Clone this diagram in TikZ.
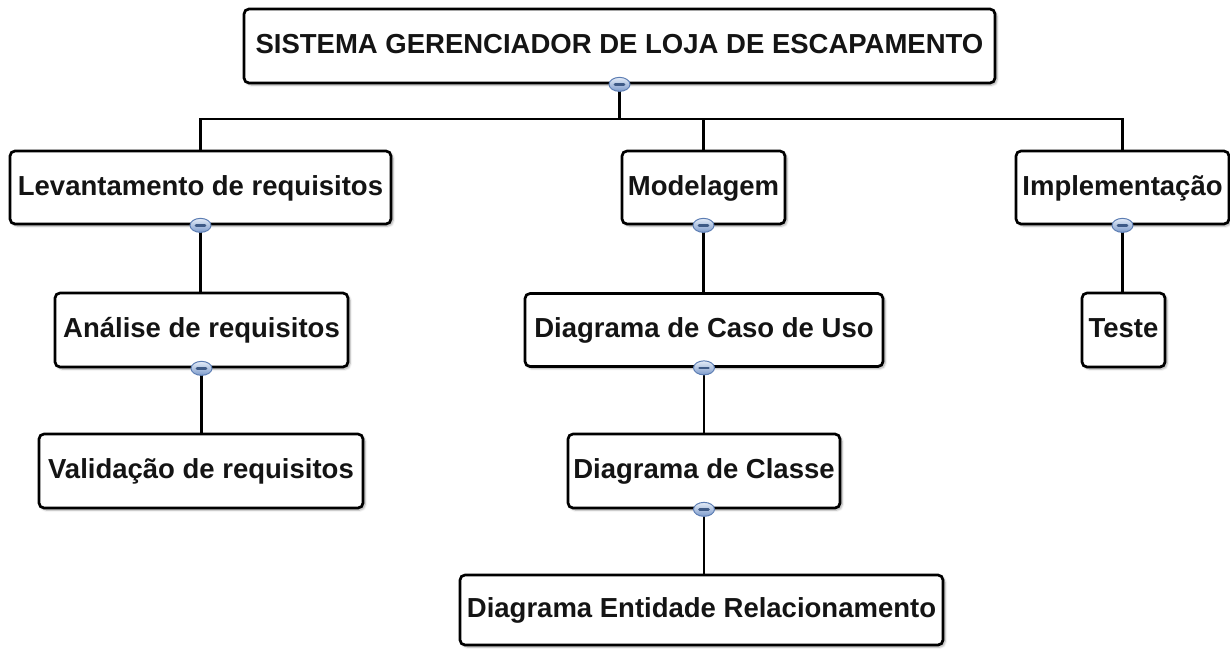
\documentclass[tikz,border=0pt]{standalone}
\usepackage{fontspec}
\setmainfont{Liberation Sans}
\usetikzlibrary{shadows.blur,shapes.geometric}
\definecolor{icontop}{HTML}{E4ECF7}
\definecolor{iconbot}{HTML}{7C9ACB}
\definecolor{iconedge}{HTML}{5C7DB3}
\definecolor{icondash}{HTML}{3E5A86}
\tikzset{
  boxst/.style={draw=black, line width=2.7pt, rounded corners=5pt, fill=white,
    inner sep=0pt, blur shadow={shadow xshift=2pt, shadow yshift=-2pt, shadow blur steps=6, shadow opacity=35}},
  txt/.style={font=\bfseries\fontsize{27.5}{30}\selectfont, text=black!92, inner sep=0pt, anchor=base},
  conn/.style={draw=black, line width=2.8pt},
  iconst/.style={ellipse, minimum width=21pt, minimum height=14pt, inner sep=0pt,
    top color=icontop, bottom color=iconbot, draw=iconedge, line width=1pt},
  icondashst/.style={draw=icondash, line width=2.6pt, line cap=round},
}
\newcommand\mybox[6]{%
  \node[boxst, minimum width=#4pt, minimum height=#5pt] (#1) at (#2,#3) {};
  \node[txt] (#1t) at ([shift={(0,7.5)}]#1.center) {#6};
}
\newcommand\myicon[2]{%
  \node[iconst] (#1) at (#2.south) {};
  \draw[icondashst] ([xshift=-4.5pt]#1.center) -- ([xshift=4.5pt]#1.center);
}
\begin{document}
\begin{tikzpicture}[x=1pt,y=-1pt]
\useasboundingbox (0,0) rectangle (1230,648);
\coordinate (bar) at (619.5,119);
\mybox{root}{619.5}{46}{751}{74}{SISTEMA GERENCIADOR DE LOJA DE ESCAPAMENTO}
\mybox{lev}{200.5}{187.5}{381}{73}{Levantamento de requisitos}
\mybox{mod}{703.5}{187.5}{163}{73}{Modelagem}
\mybox{imp}{1122.5}{187.5}{213}{73}{Implementação}
\mybox{ana}{201.5}{330}{293}{74}{Análise de requisitos}
\mybox{caso}{704}{330}{358}{73}{Diagrama de Caso de Uso}
\mybox{teste}{1123.5}{330}{83}{74}{Teste}
\mybox{val}{201}{471}{324}{74}{Validação de requisitos}
\mybox{classe}{704}{471}{272}{74}{Diagrama de Classe}
\mybox{der}{701.5}{610}{483}{70}{Diagrama Entidade Relacionamento}
% connectors
\draw[conn] (root.south) -- (bar);
\draw[conn] (bar) -| (lev.north);
\draw[conn] (bar) -| (imp.north);
\draw[conn] (mod.north |- bar) -- (mod.north);
\draw[conn] (lev.south) -- (lev.south |- ana.north);
\draw[conn] (ana.south) -- (ana.south |- val.north);
\draw[conn] (mod.south) -- (mod.south |- caso.north);
\draw[conn] (caso.south) -- (caso.south |- classe.north);
\draw[conn] (classe.south) -- (classe.south |- der.north);
\draw[conn] (imp.south) -- (imp.south |- teste.north);
% icons
\myicon{iroot}{root}
\myicon{ilev}{lev}
\myicon{imod}{mod}
\myicon{iimp}{imp}
\myicon{iana}{ana}
\myicon{icaso}{caso}
\myicon{iclasse}{classe}
\end{tikzpicture}
\end{document}
